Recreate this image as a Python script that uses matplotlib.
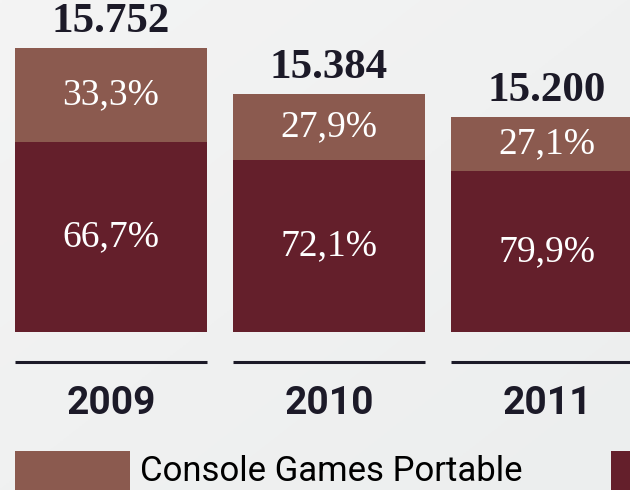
import numpy as np
import matplotlib
matplotlib.use("Agg")
import matplotlib.pyplot as plt
from matplotlib.patches import Rectangle
from matplotlib.transforms import blended_transform_factory

# Unit sales per year, with the portable / home console split in percent
years = ["2009", "2010", "2011"]
totals = [15752, 15384, 15200]
total_labels = ["15.752", "15.384", "15.200"]
share_portable = [33.3, 27.9, 27.1]
share_home = [66.7, 72.1, 79.9]
legend_labels = ["Console Games Portable", "Console Games Home"]

C_PORTABLE = "#8b5a4f"
C_HOME = "#641f2b"
C_INK = "#1c1a28"
BG = "#f0f1f1"

fig = plt.figure(figsize=(6.3, 4.9), dpi=100)
fig.patch.set_facecolor(BG)

# soft diagonal background gradient
bg_ax = fig.add_axes([0, 0, 1, 1], zorder=-10)
gy, gx = np.mgrid[0:1:200j, 0:1:200j]
grad = 0.5 * gx + 0.5 * (1 - gy)
bg_ax.imshow(grad, cmap=matplotlib.colors.LinearSegmentedColormap.from_list(
    "bg", ["#f4f4f4", "#eceeee"]), aspect="auto", extent=[0, 1, 0, 1],
    origin="lower")
bg_ax.set_axis_off()

# bar area: baseline at 332 px from the top, truncated value axis
ax = fig.add_axes([0, 158 / 490, 1, 332 / 490])
ax.set_facecolor("none")
ax.set_xlim(-0.509, 2.381)
ax.set_ylim(13490, 16130)
ax.set_axis_off()

base = ax.get_ylim()[0]
x = np.arange(len(years))
width = 0.881
totals_a = np.array(totals, dtype=float)
port = np.array(share_portable)
home = np.array(share_home)
home_frac = home / (home + port)
split = base + (totals_a - base) * home_frac

ax.bar(x, split - base, width=width, bottom=base, color=C_HOME, linewidth=0)
ax.bar(x, totals_a - split, width=width, bottom=split, color=C_PORTABLE,
       linewidth=0)

def pct(v):
    return f"{v:.1f}".replace(".", ",") + "%"

for i in range(len(years)):
    ax.text(x[i], (base + split[i]) / 2, pct(home[i]), ha="center",
            va="center", color="white", fontsize=27,
            family="Liberation Serif")
    ax.text(x[i], (split[i] + totals_a[i]) / 2, pct(port[i]), ha="center",
            va="center", color="white", fontsize=27,
            family="Liberation Serif")
    ax.annotate(total_labels[i], (x[i], totals_a[i]), xytext=(0, 5),
                textcoords="offset points", ha="center", va="bottom",
                color=C_INK, fontsize=31, fontweight="bold",
                family="Liberation Serif", annotation_clip=False)

# rule and year label under each bar
tr = blended_transform_factory(ax.transData, fig.transFigure)
for i, yr in enumerate(years):
    ax.plot([x[i] - width / 2, x[i] + width / 2], [1 - 362 / 490] * 2,
            transform=tr, color=C_INK, lw=2.2, clip_on=False,
            solid_capstyle="butt")
    ax.text(x[i], 1 - 403 / 490, yr, transform=tr, ha="center",
            va="center", color=C_INK, fontsize=28, fontweight="bold",
            family="Roboto")

# legend row along the bottom edge; the second entry runs off the right side
fig.patches.append(Rectangle((15 / 630, 0), 115 / 630, 39 / 490,
                             transform=fig.transFigure, color=C_PORTABLE,
                             lw=0))
fig.text(140 / 630, 19 / 490, legend_labels[0], ha="left", va="center",
         color="black", fontsize=25, family="Roboto")
fig.patches.append(Rectangle((611 / 630, 0), 115 / 630, 39 / 490,
                             transform=fig.transFigure, color=C_HOME, lw=0))

fig.savefig("out.png", dpi=100, facecolor=BG)
